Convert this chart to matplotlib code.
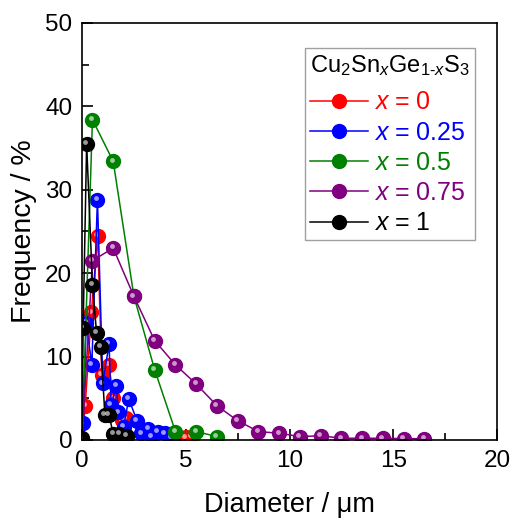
import matplotlib
matplotlib.use("Agg")
import matplotlib.pyplot as plt
from matplotlib.ticker import MultipleLocator
from matplotlib.transforms import offset_copy

plt.rcParams['font.family'] = ['Liberation Sans', 'DejaVu Sans']
plt.rcParams['mathtext.fontset'] = 'custom'
plt.rcParams['mathtext.rm'] = 'Liberation Sans'
plt.rcParams['mathtext.it'] = 'Liberation Sans:italic'

# data (diameter in um, frequency in %)
x0_d = [0.0, 0.15, 0.45, 0.75, 0.95, 1.3, 1.5, 1.9, 2.1, 4.5, 5.0, 5.3]
x0_f = [0.0, 4.1, 15.3, 24.5, 7.8, 9.0, 5.0, 2.4, 2.6, 0.1, 0.3, 0.4]

x25_d = [0.0, 0.05, 0.2, 0.47, 0.74, 1.0, 1.3, 1.4, 1.65, 1.75, 2.0, 2.25,
         2.65, 2.85, 3.2, 3.35, 3.65, 4.0, 4.3]
x25_f = [0.0, 2.0, 14.0, 9.0, 28.8, 6.8, 11.5, 4.2, 6.5, 3.3, 1.6, 4.9,
         2.3, 0.8, 1.3, 0.4, 1.0, 0.8, 0.3]

x50_d = [0.0, 0.5, 1.5, 2.5, 3.5, 4.5, 5.5, 6.5]
x50_f = [0.0, 38.4, 33.4, 17.2, 8.4, 1.0, 1.0, 0.4]

x75_d = [0.0, 0.5, 1.5, 2.5, 3.5, 4.5, 5.5, 6.5, 7.5, 8.5, 9.5, 10.5,
         11.5, 12.5, 13.5, 14.5, 15.5, 16.5]
x75_f = [0.0, 21.5, 23.0, 17.2, 11.9, 9.0, 6.7, 4.1, 2.3, 1.0, 0.8, 0.4,
         0.5, 0.2, 0.2, 0.2, 0.15, 0.15]

x1_d = [0.0, 0.05, 0.22, 0.5, 0.7, 0.9, 1.1, 1.3, 1.5, 1.8, 2.15]
x1_f = [0.2, 13.4, 35.5, 18.6, 12.8, 11.2, 3.0, 3.0, 0.7, 0.7, 0.5]

labels = ['0', '0.25', '0.5', '0.75', '1']
colors = ['#ff0000', '#0000ff', '#008000', '#800080', '#000000']
series = [(x0_d, x0_f), (x25_d, x25_f), (x50_d, x50_f), (x75_d, x75_f), (x1_d, x1_f)]

fig = plt.figure(figsize=(5.13, 5.2), dpi=100)
ax = fig.add_axes([0.16, 0.154, 0.809, 0.802])

hl = offset_copy(ax.transData, fig=fig, x=-1.2, y=1.2, units='points')
handles = []
for (d, f), c, lab in zip(series, colors, labels):
    h, = ax.plot(d, f, '-o', color=c, lw=1.1, ms=10, mec=c, mfc=c,
                 label='$x$ = ' + lab)
    # little highlight to look like the shaded spheres
    ax.plot(d, f, 'o', color='white', ms=3.5, alpha=0.6, mew=0,
            transform=hl)
    handles.append(h)

ax.set_xlim(0, 20)
ax.set_ylim(0, 50)
ax.xaxis.set_major_locator(MultipleLocator(5))
ax.xaxis.set_minor_locator(MultipleLocator(2.5))
ax.yaxis.set_major_locator(MultipleLocator(10))
ax.yaxis.set_minor_locator(MultipleLocator(5))
ax.tick_params(which='both', direction='in', labelsize=17.5, width=1.2)
ax.tick_params(which='major', length=8, pad=7)
ax.tick_params(which='minor', length=5)
for s in ax.spines.values():
    s.set_linewidth(1.2)

ax.set_xlabel('Diameter / μm', fontsize=19.5, labelpad=15)
ax.set_ylabel('Frequency / %', fontsize=20.5, labelpad=6)

leg = ax.legend(handles=handles, loc='upper right',
                title='Cu$_2$Sn$_x$Ge$_{1\u2010x}$S$_3$',
                fontsize=18, title_fontsize=17, handlelength=2.3,
                handletextpad=0.25, labelspacing=0.25, borderpad=0.2,
                borderaxespad=0, fancybox=False, edgecolor='#888888',
                bbox_to_anchor=(0.947, 0.94))
leg._legend_box.align = 'left'
leg._legend_box.sep = 9
leg.get_frame().set_linewidth(1.0)
for t, c in zip(leg.get_texts(), colors):
    t.set_color(c)

fig.savefig('out.png', dpi=100)
